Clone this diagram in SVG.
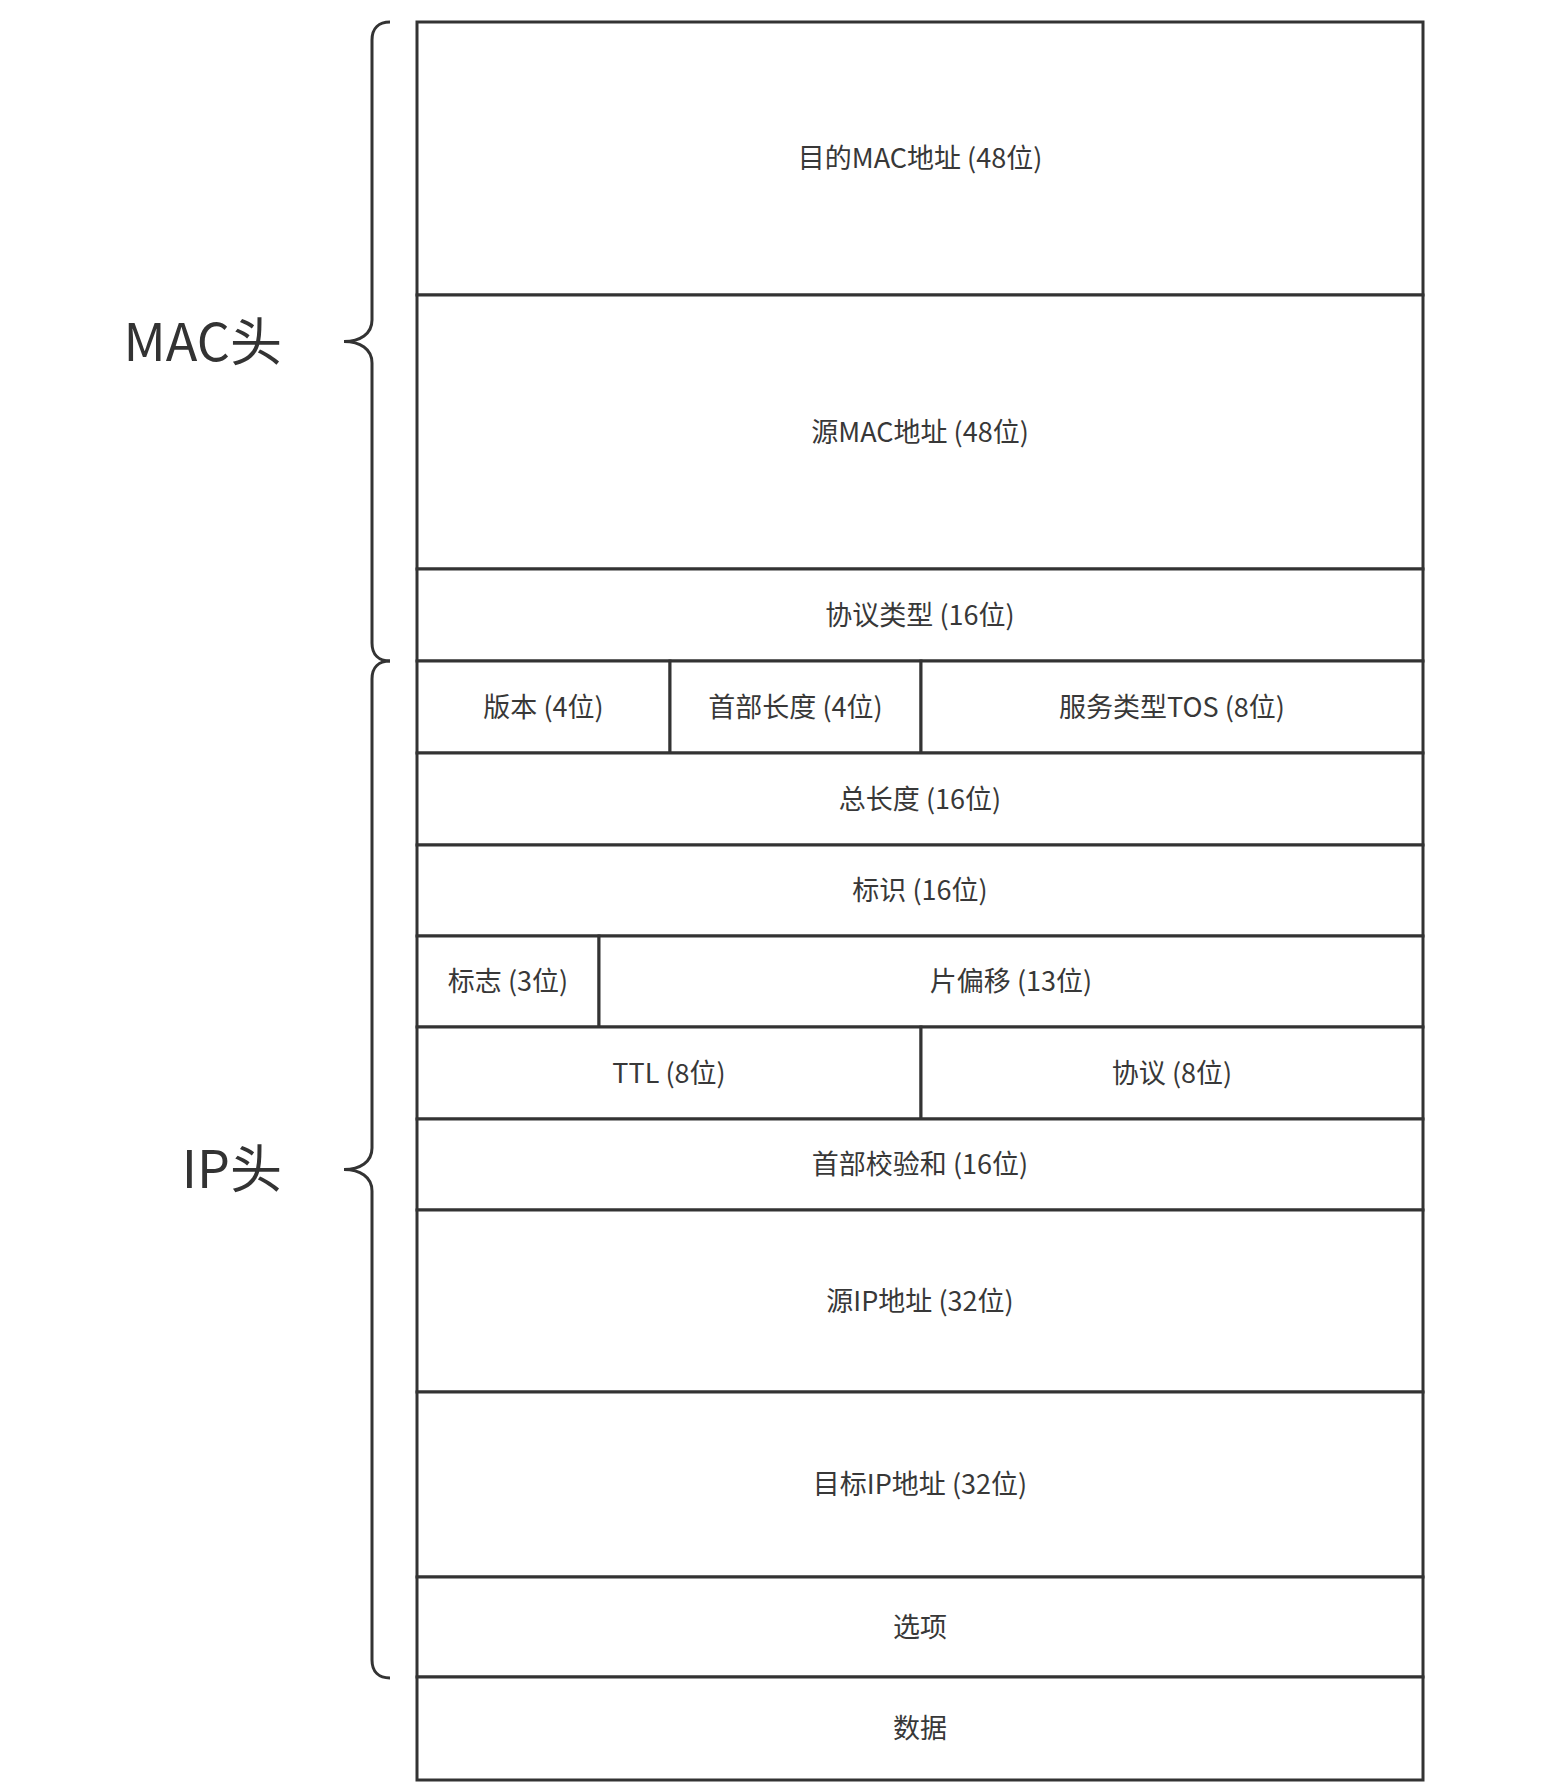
<svg xmlns="http://www.w3.org/2000/svg" width="1542" height="1786" viewBox="0 0 1542 1786">
<style>
.box{fill:#ffffff;stroke:#333333;stroke-width:3}
.t{font-family:"Noto Sans CJK SC","Microsoft YaHei","Open Sans",sans-serif;font-size:27px;fill:#383838;text-anchor:middle}
.big{font-family:"Noto Sans CJK SC","Open Sans",sans-serif;font-size:52px;fill:#333333;text-anchor:end}
.brace{fill:none;stroke:#333333;stroke-width:3}
</style>
<rect width="1542" height="1786" fill="#ffffff"/>
<g id="braces">
<path class="brace" d="M390,22 C379,22 372,28 372,40 L372,320 C372,334 360,341.5 344,341.5 C360,341.5 372,349 372,363 L372,643 C372,655 379,661 390,661"/>
<path class="brace" d="M390,661 C379,661 372,667 372,679 L372,1148 C372,1162 360,1169.5 344,1169.5 C360,1169.5 372,1177 372,1191 L372,1660 C372,1672 379,1678 390,1678"/>
</g>
<g id="label-mac"><text class="big" x="282" y="361">MAC头</text></g>
<g id="label-ip"><text class="big" x="282" y="1188">IP头</text></g>
<g id="dst-mac"><rect class="box" x="417" y="22" width="1006" height="273"/><text class="t" x="920" y="168">目的MAC地址 (48位)</text></g>
<g id="src-mac"><rect class="box" x="417" y="295" width="1006" height="274"/><text class="t" x="920" y="441.5">源MAC地址 (48位)</text></g>
<g id="proto-type"><rect class="box" x="417" y="569" width="1006" height="92"/><text class="t" x="920" y="624.5">协议类型 (16位)</text></g>
<g id="version"><rect class="box" x="417" y="661" width="253" height="92"/><text class="t" x="543.5" y="716.5">版本 (4位)</text></g>
<g id="header-len"><rect class="box" x="670" y="661" width="251" height="92"/><text class="t" x="795.5" y="716.5">首部长度 (4位)</text></g>
<g id="tos"><rect class="box" x="921" y="661" width="502" height="92"/><text class="t" x="1172" y="716.5">服务类型TOS (8位)</text></g>
<g id="total-len"><rect class="box" x="417" y="753" width="1006" height="92"/><text class="t" x="920" y="808.5">总长度 (16位)</text></g>
<g id="ident"><rect class="box" x="417" y="845" width="1006" height="91"/><text class="t" x="920" y="900">标识 (16位)</text></g>
<g id="flags"><rect class="box" x="417" y="936" width="182" height="91"/><text class="t" x="508" y="991">标志 (3位)</text></g>
<g id="frag-offset"><rect class="box" x="599" y="936" width="824" height="91"/><text class="t" x="1011" y="991">片偏移 (13位)</text></g>
<g id="ttl"><rect class="box" x="417" y="1027" width="504" height="92"/><text class="t" x="669" y="1082.5">TTL (8位)</text></g>
<g id="protocol"><rect class="box" x="921" y="1027" width="502" height="92"/><text class="t" x="1172" y="1082.5">协议 (8位)</text></g>
<g id="checksum"><rect class="box" x="417" y="1119" width="1006" height="91"/><text class="t" x="920" y="1174">首部校验和 (16位)</text></g>
<g id="src-ip"><rect class="box" x="417" y="1210" width="1006" height="182"/><text class="t" x="920" y="1310.5">源IP地址 (32位)</text></g>
<g id="dst-ip"><rect class="box" x="417" y="1392" width="1006" height="185"/><text class="t" x="920" y="1494">目标IP地址 (32位)</text></g>
<g id="options"><rect class="box" x="417" y="1577" width="1006" height="100"/><text class="t" x="920" y="1636.5">选项</text></g>
<g id="data"><rect class="box" x="417" y="1677" width="1006" height="103"/><text class="t" x="920" y="1738">数据</text></g>
</svg>
